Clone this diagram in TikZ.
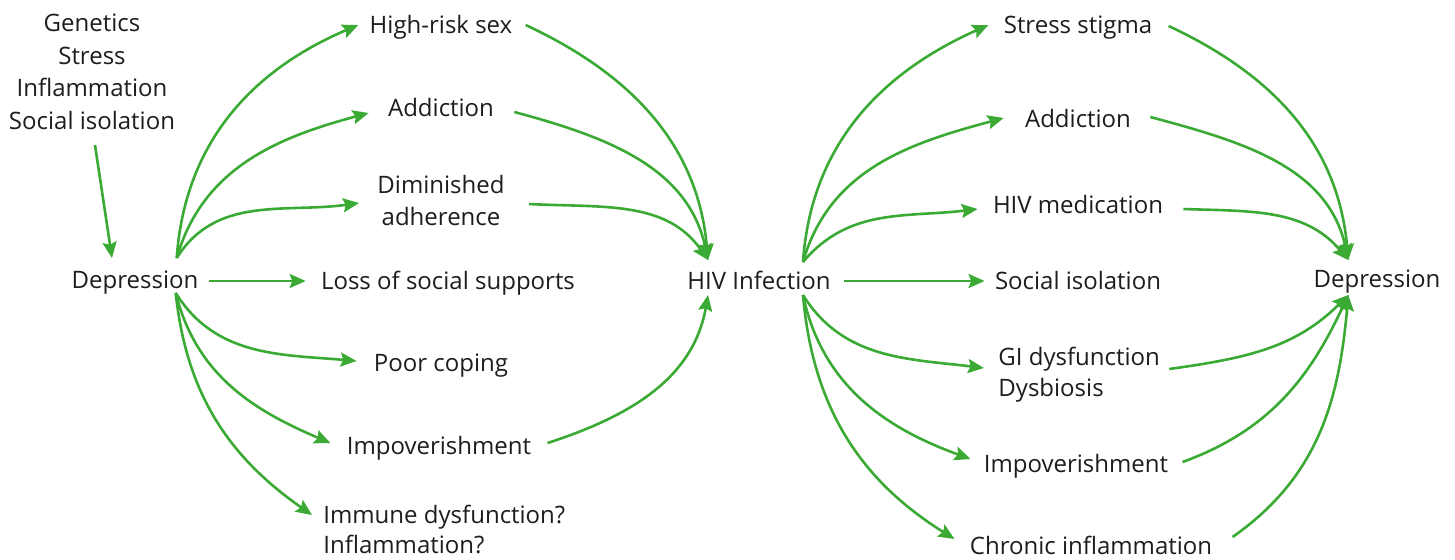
\documentclass[tikz,border=0pt]{standalone}
\usepackage{fontspec}
\setmainfont{Open Sans}
\usetikzlibrary{arrows.meta}
\definecolor{grn}{RGB}{58,170,53}
\definecolor{txt}{RGB}{30,28,28}
\tikzset{
  lbl/.style={inner sep=0pt, text=txt, font=\fontsize{12}{16}\selectfont},
  one/.style={lbl, text height=11pt, text depth=2pt},
  conn/.style={draw=grn, line width=1.3pt, -{Stealth[length=8pt,width=7pt,inset=1.3pt]}},
}
\begin{document}
\begin{tikzpicture}[x=0.5pt,y=0.5pt]
\useasboundingbox (0,0) rectangle (1455,-559);
% nodes
\node[lbl,align=center,font=\fontsize{12}{16.3}\selectfont] (causes) at (92,-72) {Genetics\\Stress\\Inflammation\\Social isolation};
\node[one] (depL) at (135,-279) {Depression};
\node[one] (hrs) at (441,-24) {High-risk sex};
\node[one] (addL) at (441,-107) {Addiction};
\node[lbl,align=center] (dimL) at (441,-200) {Diminished\\adherence};
\node[one] (loss) at (448,-280) {Loss of social supports};
\node[one] (poor) at (441,-362) {Poor coping};
\node[one] (impL) at (439,-445) {Impoverishment};
\node[lbl,align=left,anchor=west,font=\fontsize{12}{15}\selectfont] (imm) at (323,-529) {Immune dysfunction?\\Inflammation?};
\node[one] (hiv) at (759,-280) {HIV Infection};
\node[one] (stress) at (1078,-24) {Stress stigma};
\node[one] (addR) at (1078,-118) {Addiction};
\node[one] (med) at (1078,-204) {HIV medication};
\node[one] (iso) at (1078,-280) {Social isolation};
\node[lbl,align=left,anchor=west,font=\fontsize{12}{15.5}\selectfont] (gi) at (998,-375) {GI dysfunction\\Dysbiosis};
\node[one] (impR) at (1076,-463) {Impoverishment};
\node[one] (chr) at (1091,-545) {Chronic inflammation};
\node[one] (depR) at (1377,-278) {Depression};
% start / end coordinates
\coordinate (dLu) at ([shift={(-22,21)}]depL.east);
\coordinate (dLd) at ([shift={(-23,-14)}]depL.east);
\coordinate (hivT) at ([shift={(21,20)}]hiv.west);
\coordinate (hivB) at ([shift={(21,-15)}]hiv.west);
\coordinate (hivU) at ([shift={(-28,18)}]hiv.east);
\coordinate (hivD) at ([shift={(-28,-15)}]hiv.east);
\coordinate (dRT) at ([shift={(35,18)}]depR.west);
\coordinate (dRB) at ([shift={(35,-17)}]depR.west);
% left block
\draw[conn] ([shift={(3,-73)}]causes.center) -- ([shift={(-23,21)}]depL.center);
\draw[conn] (dLu) to[out=86,in=203] ([shift={(-11,-1)}]hrs.west);
\draw[conn] (dLu) to[out=74,in=195] ([shift={(-19,-6)}]addL.west);
\draw[conn] (dLu) to[out=58,in=188] ([shift={(-18,-3)}]dimL.west);
\draw[conn] ([shift={(10,-2)}]depL.east) -- ([shift={(-15,-1)}]loss.west);
\draw[conn] (dLd) to[out=-58,in=175] ([shift={(-17,1)}]poor.west);
\draw[conn] (dLd) to[out=-76,in=157] ([shift={(-16,2)}]impL.west);
\draw[conn] (dLd) to[out=-84,in=145] ([shift={(-11,14)}]imm.west);
% into HIV
\draw[conn] ([shift={(13,-1)}]hrs.east) to[out=-25,in=95] (hivT);
\draw[conn] ([shift={(20,-5)}]addL.east) to[out=-15,in=102] (hivT);
\draw[conn] ([shift={(24,-4)}]dimL.east) to[out=-3,in=125] (hivT);
\draw[conn] ([shift={(16,2)}]impL.east) to[out=18,in=-100] (hivB);
% right block
\draw[conn] (hivU) to[out=86,in=204] ([shift={(-15,-1)}]stress.west);
\draw[conn] (hivU) to[out=74,in=195] ([shift={(-21,0)}]addR.west);
\draw[conn] (hivU) to[out=50,in=187] ([shift={(-15,-5)}]med.west);
\draw[conn] ([shift={(13,-1)}]hiv.east) -- ([shift={(-10,-1)}]iso.west);
\draw[conn] (hivD) to[out=-58,in=173] ([shift={(-14,7)}]gi.west);
\draw[conn] (hivD) to[out=-78,in=160] ([shift={(-13,4)}]impR.west);
\draw[conn] (hivD) to[out=-85,in=148] ([shift={(-15,6)}]chr.west);
% into Depression right
\draw[conn] ([shift={(16,-2)}]stress.east) to[out=-25,in=95] (dRT);
\draw[conn] ([shift={(19,1)}]addR.east) to[out=-15,in=102] (dRT);
\draw[conn] ([shift={(20,-5)}]med.east) to[out=-2,in=130] (dRT);
\draw[conn] ([shift={(9,6)}]gi.east) to[out=8,in=225] (dRB);
\draw[conn] ([shift={(14,1)}]impR.east) to[out=20,in=245] (dRB);
\draw[conn] ([shift={(20,8)}]chr.east) to[out=35,in=265] (dRB);
\end{tikzpicture}
\end{document}
